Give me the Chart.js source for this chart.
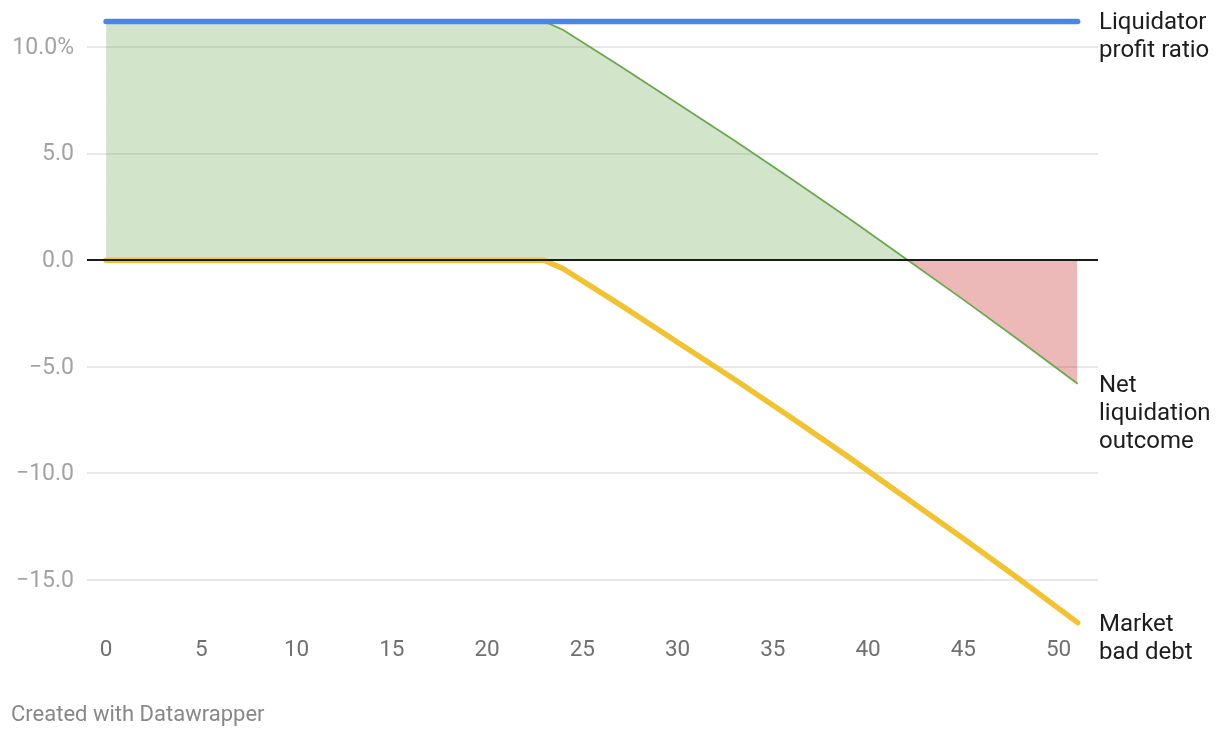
<!DOCTYPE html>
<html>
<head>
<meta charset="utf-8">
<script src="https://cdn.jsdelivr.net/npm/chart.js@4.4.1/dist/chart.umd.min.js"></script>
<style>
  html, body { margin: 0; padding: 0; background: #fff; }
  #wrap { position: relative; width: 1220px; height: 738px; }
  #footer { position: absolute; left: 11px; top: 701px; font: 22px Roboto, sans-serif; line-height: 26px; color: #888; }
</style>
</head>
<body>
<div id="wrap">
  <canvas id="chart" width="1220" height="738"></canvas>
  <div id="footer">Created with Datawrapper</div>
</div>
<script>
// ----------- data -----------
const xProfit = [0, 51];
const profitRatio = [11.2, 11.2];

const xOutcome = [0, 23, 24, 27, 30, 33, 36, 39, 42, 45, 48, 51];
const netOutcome = [11.2, 11.2, 10.8, 9.1, 7.35, 5.6, 3.8, 1.95, 0.05, -1.85, -3.8, -5.8];
const badDebt = [0, 0, -0.4, -2.1, -3.85, -5.6, -7.4, -9.25, -11.15, -13.05, -15.0, -17.0];

const xTicks = [0, 5, 10, 15, 20, 25, 30, 35, 40, 45, 50];
const yTicks = [-15, -10, -5, 0, 5, 10];
const yTickLabels = ['−15.0', '−10.0', '−5.0', '0.0', '5.0', '10.0%'];

// nhãn ở cuối mỗi đường (theo thứ tự datasets)
const seriesLabels = [
    ['Liquidator', 'profit ratio'],
    ['Market', 'bad debt'],
    ['Net', 'liquidation', 'outcome']
];

const toPoints = (xs, ys) => xs.map((x, i) => ({ x: x, y: ys[i] }));

// ----------- plugin: đường 0 + nhãn bên phải -----------
const endLabels = {
    id: 'endLabels',
    afterDatasetsDraw(chart) {
        const ctx = chart.ctx;
        const area = chart.chartArea;
        const yScale = chart.scales.y;

        ctx.save();
        // đường 0 màu đen nằm trên các dataset
        const y0 = Math.round(yScale.getPixelForValue(0));
        ctx.strokeStyle = '#1a1a1a';
        ctx.lineWidth = 2;
        ctx.beginPath();
        ctx.moveTo(area.left, y0);
        ctx.lineTo(area.right, y0);
        ctx.stroke();

        ctx.font = '24px Roboto';
        ctx.fillStyle = '#1d1d1d';
        ctx.textBaseline = 'middle';
        ctx.textAlign = 'left';
        chart.data.datasets.forEach((ds, i) => {
            const last = ds.data[ds.data.length - 1];
            const y = yScale.getPixelForValue(last.y) + 2;
            seriesLabels[i].forEach((line, k) => {
                ctx.fillText(line, area.right + 1, y + k * 28);
            });
        });
        ctx.restore();
    }
};

const ctx = document.getElementById('chart').getContext('2d');

new Chart(ctx, {
    type: 'line',
    data: {
        datasets: [
            {
                label: 'Liquidator profit ratio',
                data: toPoints(xProfit, profitRatio),
                borderColor: '#4a86e8',
                borderWidth: 5.5,
                borderCapStyle: 'round',
                pointRadius: 0,
                fill: false,
                order: 1
            },
            {
                label: 'Market bad debt',
                data: toPoints(xOutcome, badDebt),
                borderColor: '#f1c232',
                borderWidth: 5.5,
                borderCapStyle: 'round',
                borderJoinStyle: 'round',
                pointRadius: 0,
                fill: false,
                order: 2
            },
            {
                label: 'Net liquidation outcome',
                data: toPoints(xOutcome, netOutcome),
                borderColor: '#6aa84f',
                borderWidth: 1.8,
                pointRadius: 0,
                fill: {
                    target: 'origin',
                    above: 'rgba(106,168,79,0.3)',
                    below: 'rgba(200,35,35,0.32)'
                },
                order: 3
            }
        ]
    },
    options: {
        responsive: false,
        devicePixelRatio: 1,
        animation: false,
        layout: { padding: { top: 15, right: 122, left: 0, bottom: 0 } },
        plugins: {
            legend: { display: false },
            tooltip: { enabled: false }
        },
        scales: {
            x: {
                type: 'linear',
                min: -1,
                max: 52.07,
                afterFit(scale) {
                    scale.height = 109;
                    scale.paddingLeft = 0;
                    scale.paddingRight = 0;
                },
                afterBuildTicks(scale) { scale.ticks = xTicks.map(v => ({ value: v })); },
                ticks: {
                    padding: 8,
                    color: '#707070',
                    font: { family: 'Roboto', size: 22.5 },
                    maxRotation: 0,
                    autoSkip: false
                },
                grid: { display: false, drawTicks: false },
                border: { display: false }
            },
            y: {
                min: -17.3,
                max: 11.5,
                afterFit(scale) {
                    scale.width = 87;
                    scale.paddingTop = 0;
                    scale.paddingBottom = 0;
                },
                afterBuildTicks(scale) { scale.ticks = yTicks.map(v => ({ value: v })); },
                ticks: {
                    padding: 13,
                    labelOffset: 1,
                    color: '#a3a3a3',
                    font: { family: 'Roboto', size: 23 },
                    callback: (value, index) => yTickLabels[index]
                },
                grid: {
                    drawTicks: false,
                    lineWidth: 2,
                    color: c => (c.tick && c.tick.value === 0) ? 'rgba(0,0,0,0)' : '#e8e8e8'
                },
                border: { display: false }
            }
        }
    },
    plugins: [endLabels]
});
</script>
</body>
</html>
